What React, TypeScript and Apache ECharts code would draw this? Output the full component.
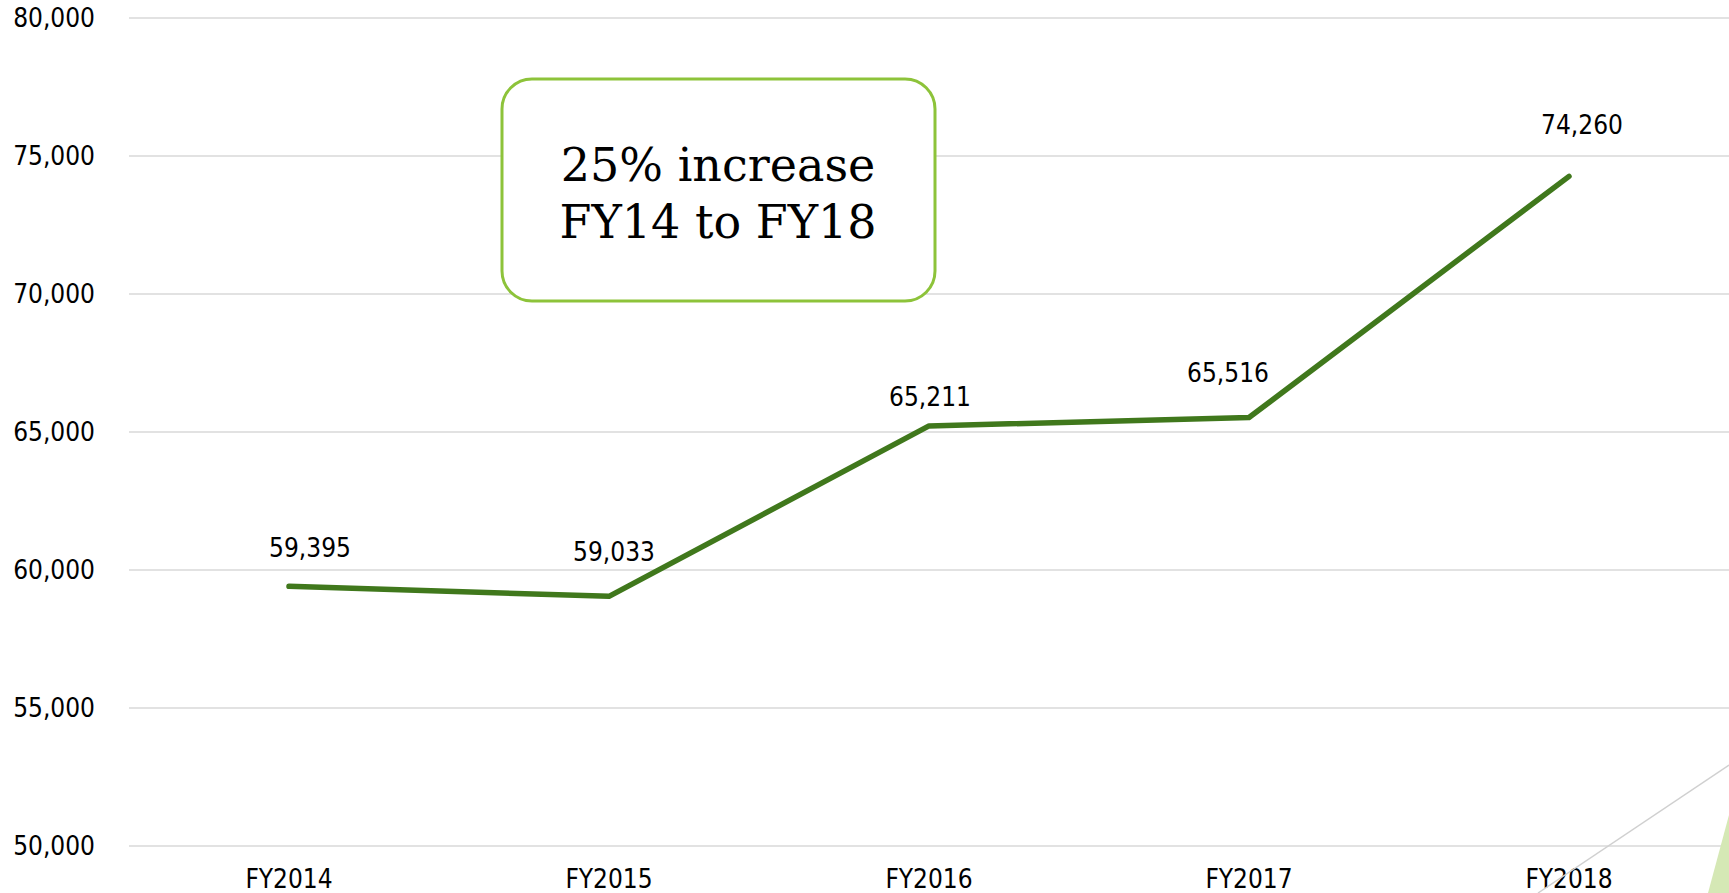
import React, { useEffect, useRef } from "react";
import * as echarts from "echarts";

const categories = ["FY2014", "FY2015", "FY2016", "FY2017", "FY2018"];
const values = [59395, 59033, 65211, 65516, 74260];
const yMin = 50000;
const yMax = 80000;
const yInterval = 5000;
const calloutLines = ["25% increase", "FY14 to FY18"];

// label nudges (layout, px) per point, relative to the point
const labelNudges: [number, number][] = [
  [21, -38],
  [5, -44],
  [1, -29],
  [-21, -45],
  [13, -51],
];

const fmt = (v: number) => v.toLocaleString("en-US");

export default function App() {
  const ref = useRef<HTMLDivElement>(null);
  useEffect(() => {
    document.body.style.margin = "0";
    document.body.style.overflow = "hidden";
    const chart = echarts.init(ref.current!, null, { renderer: "svg" });
    const font = "'DejaVu Sans Condensed', 'DejaVu Sans', sans-serif";
    chart.setOption({
      animation: false,
      backgroundColor: "#ffffff",
      grid: { left: 129, top: 18, width: 1615, height: 827.5, containLabel: false },
      xAxis: {
        type: "category",
        data: categories,
        boundaryGap: true,
        axisLine: { show: false },
        axisTick: { show: false },
        axisLabel: { color: "#000", fontSize: 26, fontFamily: font, margin: 20 },
      },
      yAxis: {
        type: "value",
        min: yMin,
        max: yMax,
        interval: yInterval,
        axisLine: { show: false },
        axisTick: { show: false },
        axisLabel: {
          color: "#000",
          fontSize: 26,
          fontFamily: font,
          margin: 34,
          formatter: (v: number) => fmt(v),
        },
        splitLine: { lineStyle: { color: "#d9d9d9", width: 1.5 } },
      },
      series: [
        {
          type: "line",
          data: values.map((v, i) => ({
            value: v,
            label: { offset: labelNudges[i] },
          })),
          symbol: "circle",
          symbolSize: 0,
          showSymbol: true,
          lineStyle: { color: "#40781c", width: 5.5, cap: "round", join: "round" },
          itemStyle: { color: "#40781c" },
          label: {
            show: true,
            position: "inside",
            color: "#000",
            fontSize: 26,
            fontFamily: font,
            formatter: (p: any) => fmt(p.value),
          },
          z: 3,
        },
      ],
      graphic: [
        {
          type: "line",
          shape: { x1: 1729, y1: 765, x2: 1538, y2: 893 },
          style: { stroke: "#d0d0d0", lineWidth: 1.5 },
          z: 1,
        },
        {
          type: "polygon",
          shape: { points: [[1729, 815], [1708, 893], [1729, 893]] },
          style: { fill: "#d5e8b5" },
          z: 1,
        },
        {
          type: "rect",
          shape: { x: 502, y: 79, width: 433, height: 222, r: 30 },
          style: { fill: "#ffffff", stroke: "#8dc33a", lineWidth: 3 },
          z: 10,
        },
        {
          type: "text",
          x: 718,
          y: 193,
          style: {
            text: calloutLines.join("\n"),
            fontFamily: "'DejaVu Serif', serif",
            fontSize: 46,
            lineHeight: 57,
            fill: "#000",
            align: "center",
            verticalAlign: "middle",
          },
          z: 11,
        },
      ],
    });
    return () => chart.dispose();
  }, []);
  return (
    <div
      ref={ref}
      style={{ position: "absolute", left: 0, top: 0, width: 1729, height: 893 }}
    />
  );
}
